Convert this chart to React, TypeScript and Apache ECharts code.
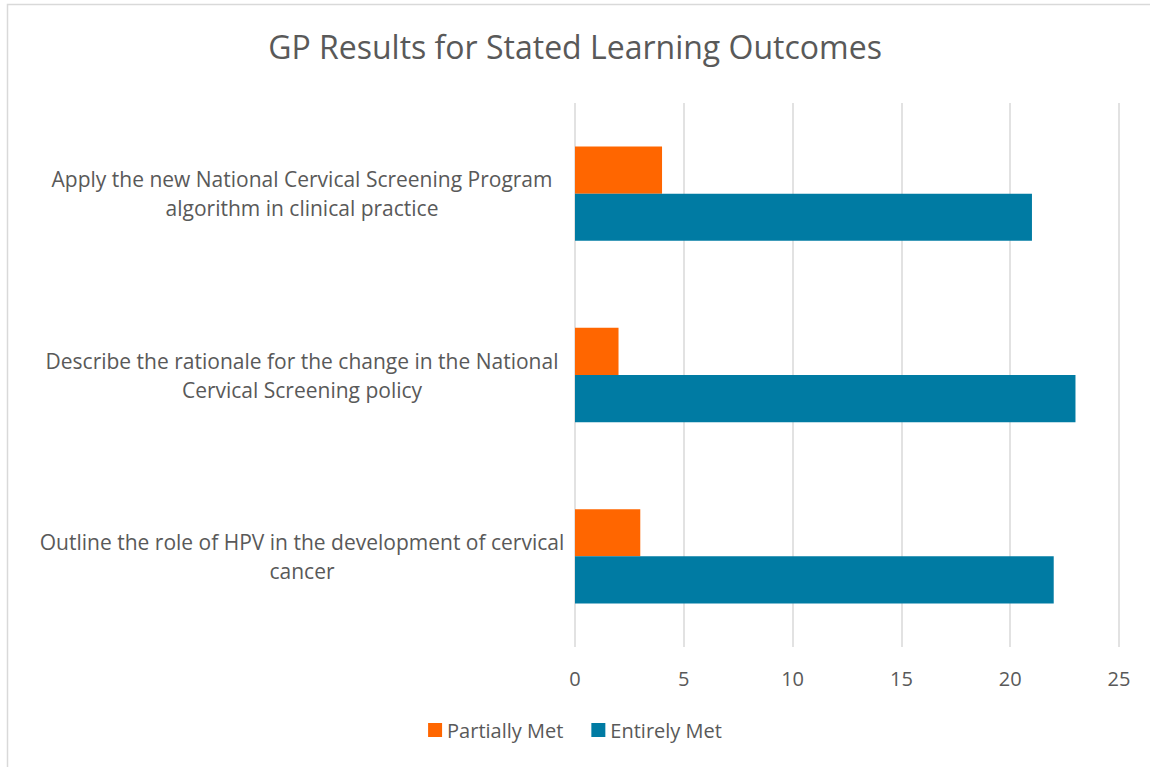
import React, { useEffect, useRef } from "react";
import * as echarts from "echarts";

const categories = [
  "Outline the role of HPV in the development of cervical cancer",
  "Describe the rationale for the change in the National Cervical Screening policy",
  "Apply the new National Cervical Screening Program algorithm in clinical practice",
];
const partiallyMet = [3, 2, 4];
const entirelyMet = [22, 23, 21];
const xTicks = [0, 5, 10, 15, 20, 25];

const FONT = "'Open Sans', 'Noto Sans', sans-serif";
const TEXT = "#595959";

function wrap(s: string, max: number): string {
  const words = s.split(" ");
  const lines: string[] = [];
  let cur = "";
  for (const w of words) {
    const next = cur ? cur + " " + w : w;
    if (next.length > max && cur) {
      lines.push(cur);
      cur = w;
    } else cur = next;
  }
  if (cur) lines.push(cur);
  return lines.join("\n");
}

export default function App() {
  const ref = useRef<HTMLDivElement>(null);
  useEffect(() => {
    if (!ref.current) return;
    const chart = echarts.init(ref.current, undefined, { renderer: "svg" });
    chart.setOption({
      animation: false,
      backgroundColor: "#ffffff",
      title: {
        text: "GP Results for Stated Learning Outcomes",
        left: "center",
        top: 25,
        textStyle: { fontFamily: FONT, fontSize: 32, fontWeight: "normal", color: TEXT },
      },
      graphic: [
        {
          type: "rect",
          shape: { x: 7.5, y: 4.5, width: 1160, height: 780 },
          style: { fill: "none", stroke: "#d9d9d9", lineWidth: 1.5 },
          silent: true,
        },
      ],
      legend: {
        bottom: 22,
        left: "center",
        itemWidth: 14,
        itemHeight: 14,
        itemGap: 28,
        icon: "rect",
        textStyle: { fontFamily: FONT, fontSize: 20, color: TEXT },
        data: ["Partially Met", "Entirely Met"],
      },
      grid: { left: 575, right: 31, top: 103, bottom: 120 },
      xAxis: {
        type: "value",
        min: xTicks[0],
        max: xTicks[xTicks.length - 1],
        interval: 5,
        axisLine: { show: false },
        axisTick: { show: false },
        splitLine: { show: true, lineStyle: { color: "#d9d9d9", width: 1.5 } },
        axisLabel: { fontFamily: FONT, fontSize: 20, color: TEXT, margin: 21 },
      },
      yAxis: {
        type: "category",
        data: categories,
        axisLine: { show: false },
        axisTick: { show: false },
        axisLabel: {
          fontFamily: FONT,
          fontSize: 21,
          color: TEXT,
          align: "center",
          margin: 273,
          lineHeight: 29,
          formatter: (v: string) => wrap(v, 54),
        },
      },
      series: [
        {
          name: "Partially Met",
          type: "bar",
          data: partiallyMet,
          itemStyle: { color: "#ff6600" },
          barGap: "0%",
          barCategoryGap: "48%",
        },
        {
          name: "Entirely Met",
          type: "bar",
          data: entirelyMet,
          itemStyle: { color: "#007ba3" },
          barGap: "0%",
          barCategoryGap: "48%",
        },
      ],
    });
    return () => chart.dispose();
  }, []);
  return (
    <div
      ref={ref}
      style={{ position: "fixed", left: 0, top: 0, width: 1150, height: 767 }}
    />
  );
}
